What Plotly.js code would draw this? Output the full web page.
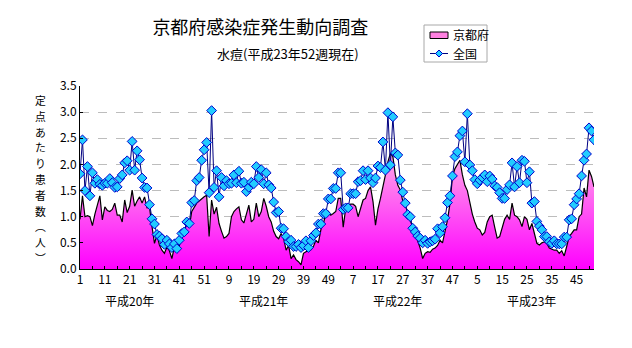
<!DOCTYPE html>
<html><head><meta charset="utf-8">
<script src="https://cdn.plot.ly/plotly-3.0.1.min.js"></script>
<style>html,body{margin:0;padding:0;background:#fff}#chart{width:632px;height:348px}</style>
</head><body><div id="chart"></div>
<script>
// ---- data ----
const yearLabels = ['平成20年', '平成21年', '平成22年', '平成23年'];
const weeksPerYear = 52;

const kyotoH20 = [0.95,1.40,1.00,1.02,1.00,0.83,1.05,1.22,1.40,0.94, 1.19,1.12,1.10,1.14,1.26,1.03,1.03,0.90,1.32,1.08,
  1.20,1.51,1.20,1.30,1.38,1.26,1.38,1.17,1.18,0.81, 0.49,0.65,0.46,0.36,0.30,0.42,0.35,0.20,0.42,0.49,
  0.45,0.62,0.72,0.87,0.80,1.10,1.19,1.26,1.30,1.35, 1.38,1.41];
const kyotoH21 = [0.62,1.32,1.05,1.18,0.87,0.72,0.59,0.62,0.68,1.00, 1.10,1.15,1.19,0.94,0.88,1.05,1.22,0.90,0.95,1.26,
  1.00,1.10,1.35,1.20,1.00,0.90,0.72,0.62,0.58,0.68, 0.59,0.36,0.45,0.20,0.27,0.18,0.14,0.08,0.30,0.33,
  0.35,0.37,0.43,0.55,0.50,0.75,0.87,1.05,1.10,1.03, 1.06,1.10];
const kyotoH22 = [1.35,1.35,0.80,1.16,1.22,1.24,1.24,1.20,1.00,1.15, 1.32,1.35,1.50,1.57,1.29,0.84,1.15,1.35,1.55,1.80,
  2.05,2.21,2.15,1.80,1.60,1.51,1.30,1.20,1.10,0.94, 0.78,0.68,0.55,0.40,0.20,0.30,0.33,0.32,0.38,0.40,
  0.45,0.55,0.50,0.70,0.94,1.25,1.77,1.92,2.00,2.08, 1.80,1.60];
const kyotoH23 = [1.50,1.26,1.05,0.90,0.78,0.75,0.65,0.70,0.90,1.00, 1.03,0.80,0.59,0.62,0.80,0.95,1.03,0.95,1.26,1.03,
  1.00,0.94,0.81,1.00,0.95,0.75,0.87,0.70,0.49,0.46, 0.50,0.52,0.49,0.40,0.38,0.36,0.36,0.30,0.35,0.25,
  0.43,0.62,0.68,0.75,0.75,1.00,1.05,1.55,1.38,1.89, 1.77,1.57];

const zenkokuH20 = [1.82,2.47,1.50,1.96,1.40,1.84,1.64,1.71,1.62,1.60, 1.64,1.64,1.73,1.65,1.56,1.57,1.73,1.80,2.03,2.07,
  1.89,2.44,1.89,2.26,2.09,1.74,1.56,1.55,1.23,0.96, 0.86,0.66,0.63,0.58,0.47,0.55,0.48,0.41,0.48,0.39,
  0.55,0.68,0.71,0.90,0.87,1.27,1.31,1.69,1.75,2.08, 2.28,2.42];
const zenkokuH21 = [1.46,3.03,1.56,1.88,1.38,1.75,1.59,1.69,1.63,1.64, 1.80,1.65,1.87,1.64,1.66,1.48,1.56,1.66,1.63,1.96,
  1.75,1.90,1.63,1.84,1.61,1.55,1.28,1.08,1.10,0.78, 0.77,0.62,0.52,0.55,0.43,0.43,0.47,0.41,0.45,0.54,
  0.41,0.54,0.64,0.69,0.86,0.86,1.06,1.06,1.34,1.34, 1.54,1.54];
const zenkokuH22 = [1.84,1.84,1.14,1.17,1.17,1.44,1.44,1.44,1.67,1.69, 1.88,1.71,1.88,1.74,1.65,1.74,1.97,1.94,2.43,1.89,
  2.99,1.99,2.91,2.22,2.18,1.70,1.47,1.26,1.04,1.00, 0.78,0.71,0.63,0.59,0.50,0.55,0.49,0.52,0.54,0.57,
  0.77,0.69,0.81,0.98,1.27,1.40,1.78,2.15,2.24,2.55, 2.64,2.05];
const zenkokuH23 = [2.97,1.99,1.88,1.71,1.63,1.70,1.75,1.80,1.67,1.78, 1.72,1.59,1.56,1.46,1.35,1.35,1.52,1.61,2.03,1.57,
  1.96,1.65,2.08,2.06,1.65,1.86,1.26,1.29,0.91,0.82, 0.75,0.62,0.62,0.52,0.49,0.54,0.48,0.48,0.48,0.61,
  0.61,0.94,0.96,1.23,1.34,1.44,1.78,2.08,2.20,2.70, 2.64,2.47];

const seriesNames = ['京都府', '全国'];

// ---- build ----
const kyoto = [].concat(kyotoH20, kyotoH21, kyotoH22, kyotoH23);
const zenkoku = [].concat(zenkokuH20, zenkokuH21, zenkokuH22, zenkokuH23);
const idx = kyoto.map((_, i) => i + 1);
const weekOfYear = idx.map(i => ((i - 1) % weeksPerYear) + 1);

const tickvals = [], ticktext = [];
for (let i = 1; i <= idx.length; i += 5) {
  tickvals.push(i);
  ticktext.push(((i - 1) % 10 === 0) ? String(weekOfYear[i - 1]) : '');
}

const FONT = '"Noto Sans CJK JP", "Noto Sans", sans-serif';
const ML = 80, MR = 38, MT = 86, MB = 79, W = 632, H = 348;
const PW = W - ML - MR, PH = H - MT - MB;
const px = v => (v - ML) / PW;          // pixel x -> paper x
const py = v => (H - MB - v) / PH;      // pixel y -> paper y

const traces = [
  {
    x: idx, y: kyoto, name: seriesNames[0], type: 'scatter', mode: 'lines',
    fill: 'tozeroy',
    fillcolor: '#ff77e4',
    fillgradient: {type: 'vertical', start: 0, stop: 2.2,
      colorscale: [[0, '#ff00ff'], [1, '#ffa8e8']]},
    line: {color: '#000000', width: 1.2},
    hoverinfo: 'skip', showlegend: false
  },
  {
    x: idx, y: zenkoku, name: seriesNames[1], type: 'scatter', mode: 'lines+markers',
    line: {color: '#000080', width: 1},
    marker: {symbol: 'diamond', size: 7.5, color: '#22ccff', line: {color: '#0000cc', width: 1}},
    hoverinfo: 'skip', showlegend: false
  }
];

const yTitleChars = ['定','点','あ','た','り','患','者','数','︵','人','︶'];

const annotations = [
  {xref: 'paper', yref: 'paper', x: px(288), y: py(53), xanchor: 'center', yanchor: 'middle',
   text: '水痘(平成23年52週現在)', showarrow: false, font: {family: FONT, size: 13, color: '#000'}},
  // legend texts
  {xref: 'paper', yref: 'paper', x: px(451), y: py(35), xanchor: 'left', yanchor: 'middle',
   text: seriesNames[0], showarrow: false, font: {family: FONT, size: 12, color: '#000'}},
  {xref: 'paper', yref: 'paper', x: px(451), y: py(53.5), xanchor: 'left', yanchor: 'middle',
   text: seriesNames[1], showarrow: false, font: {family: FONT, size: 12, color: '#000'}}
];
// vertical y-axis title, one glyph per line
yTitleChars.forEach((c, k) => {
  annotations.push({xref: 'paper', yref: 'paper', x: px(40), y: py(100 + k * 15.8), xanchor: 'center', yanchor: 'middle',
    text: c, showarrow: false, font: {family: FONT, size: 10.8, color: '#000'}});
});
yearLabels.forEach((t, k) => {
  annotations.push({xref: 'x', yref: 'paper', x: 21 + k * 54, y: py(300), xanchor: 'center', yanchor: 'middle',
    text: t, showarrow: false, font: {family: FONT, size: 12, color: '#000'}});
});

// custom compact legend (box, swatch, line + diamond)
const dx = 3.5, dy = 3.5, cx = 439, cy = 53.5;
const shapes = [
  {type: 'rect', xref: 'paper', yref: 'paper', x0: px(424), x1: px(487), y0: py(25), y1: py(62),
   line: {color: '#a8a8a8', width: 1}, fillcolor: '#ffffff', layer: 'above'},
  {type: 'rect', xref: 'paper', yref: 'paper', x0: px(430), x1: px(448), y0: py(32), y1: py(38.5),
   line: {color: '#000', width: 1}, fillcolor: '#ff80e0', layer: 'above'},
  {type: 'line', xref: 'paper', yref: 'paper', x0: px(430), x1: px(448), y0: py(cy), y1: py(cy),
   line: {color: '#000080', width: 1}, layer: 'above'},
  {type: 'path', xref: 'paper', yref: 'paper', layer: 'above',
   path: `M ${px(cx)} ${py(cy - dy)} L ${px(cx + dx)} ${py(cy)} L ${px(cx)} ${py(cy + dy)} L ${px(cx - dx)} ${py(cy)} Z`,
   fillcolor: '#22ccff', line: {color: '#0000cc', width: 1}}
];

const layout = {
  width: W, height: H,
  margin: {l: ML, r: MR, t: MT, b: MB, pad: 0},
  paper_bgcolor: '#fff', plot_bgcolor: '#fff',
  font: {family: FONT, size: 12, color: '#000'},
  title: {text: '京都府感染症発生動向調査', font: {family: FONT, size: 18, color: '#000'},
    xref: 'container', yref: 'container', x: 0.412, y: 0.92, xanchor: 'center', yanchor: 'middle'},
  showlegend: false,
  xaxis: {range: [1, 208], showgrid: false, zeroline: false, showline: true, linecolor: '#000', linewidth: 1,
    tickmode: 'array', tickvals: tickvals, ticktext: ticktext, ticks: 'inside', ticklen: 3, tickcolor: '#000',
    tickfont: {family: FONT, size: 12}, fixedrange: true},
  yaxis: {range: [0, 3.5], dtick: 0.5, tickformat: '.1f', showgrid: true, gridcolor: '#bdbdbd', griddash: 'dash',
    gridwidth: 1, zeroline: false, showline: true, linecolor: '#000', linewidth: 1,
    ticks: 'inside', ticklen: 3, tickcolor: '#000', tickfont: {family: FONT, size: 12}, fixedrange: true},
  annotations: annotations,
  shapes: shapes
};

Plotly.newPlot('chart', traces, layout, {displayModeBar: false, staticPlot: true});
</script>
</body></html>
